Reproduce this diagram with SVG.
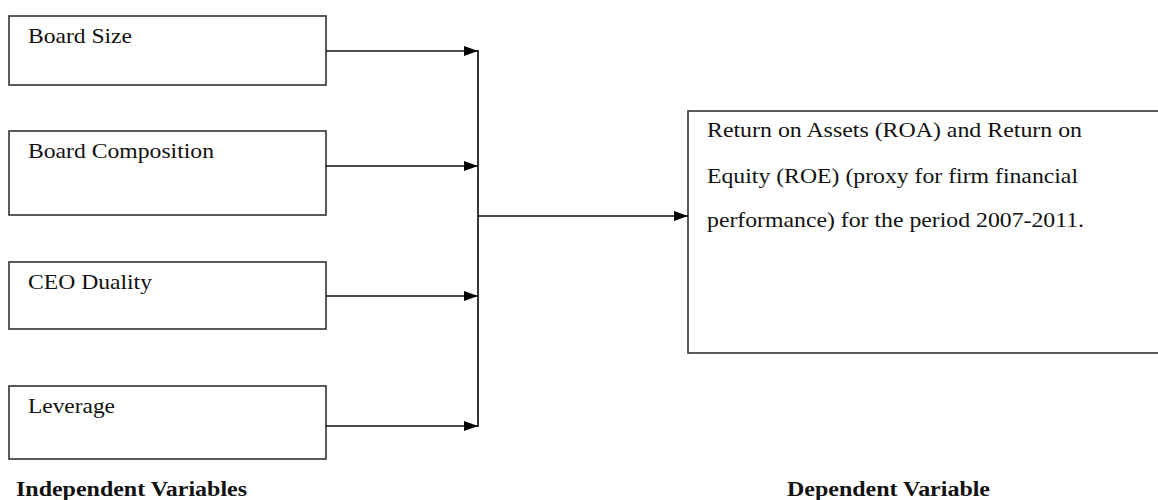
<svg xmlns="http://www.w3.org/2000/svg" width="1158" height="500" viewBox="0 0 1158 500">
<style>
.box{fill:#fff;stroke:#333;stroke-width:1.6}
.t{font-family:"Liberation Serif","Times New Roman","DejaVu Serif",serif;font-size:21.5px;fill:#111}
.b{font-family:"Liberation Serif","Times New Roman","DejaVu Serif",serif;font-size:20.5px;font-weight:bold;fill:#111}
.c{fill:none;stroke:#111;stroke-width:1.7}
</style>
<defs>
<marker id="ah" viewBox="0 0 14 10" refX="14" refY="5" markerWidth="14" markerHeight="10" markerUnits="userSpaceOnUse" orient="auto">
<path d="M0,0 L14,5 L0,10 Z" fill="#000"/>
</marker>
</defs>
<rect width="1158" height="500" fill="#fff"/>
<g id="board-size">
<rect class="box" x="9" y="16" width="317" height="69"/>
<text class="t" x="28" y="43" textLength="104" lengthAdjust="spacingAndGlyphs">Board Size</text>
</g>
<g id="board-composition">
<rect class="box" x="9" y="131" width="317" height="84"/>
<text class="t" x="28" y="158" textLength="186" lengthAdjust="spacingAndGlyphs">Board Composition</text>
</g>
<g id="ceo-duality">
<rect class="box" x="9" y="262" width="317" height="67"/>
<text class="t" x="28" y="289" textLength="124" lengthAdjust="spacingAndGlyphs">CEO Duality</text>
</g>
<g id="leverage">
<rect class="box" x="9" y="386" width="317" height="73"/>
<text class="t" x="28" y="413" textLength="87" lengthAdjust="spacingAndGlyphs">Leverage</text>
</g>
<g id="performance">
<rect class="box" x="688" y="111" width="480" height="242"/>
<text class="t" x="707" y="137" textLength="375" lengthAdjust="spacingAndGlyphs">Return on Assets (ROA) and Return on</text>
<text class="t" x="707" y="183" textLength="371" lengthAdjust="spacingAndGlyphs">Equity (ROE) (proxy for firm financial</text>
<text class="t" x="707" y="227" textLength="377" lengthAdjust="spacingAndGlyphs">performance) for the period 2007-2011.</text>
</g>
<g id="labels">
<text class="b" x="16" y="496" textLength="231" lengthAdjust="spacingAndGlyphs">Independent Variables</text>
<text class="b" x="787" y="496" textLength="203" lengthAdjust="spacingAndGlyphs">Dependent Variable</text>
</g>
<g id="connectors">
<line class="c" x1="326" y1="51" x2="478" y2="51" marker-end="url(#ah)"/>
<line class="c" x1="326" y1="166" x2="478" y2="166" marker-end="url(#ah)"/>
<line class="c" x1="326" y1="296" x2="478" y2="296" marker-end="url(#ah)"/>
<line class="c" x1="326" y1="426" x2="478" y2="426" marker-end="url(#ah)"/>
<line class="c" x1="478" y1="50" x2="478" y2="427"/>
<line class="c" x1="478" y1="216" x2="688" y2="216" marker-end="url(#ah)"/>
</g>
</svg>
